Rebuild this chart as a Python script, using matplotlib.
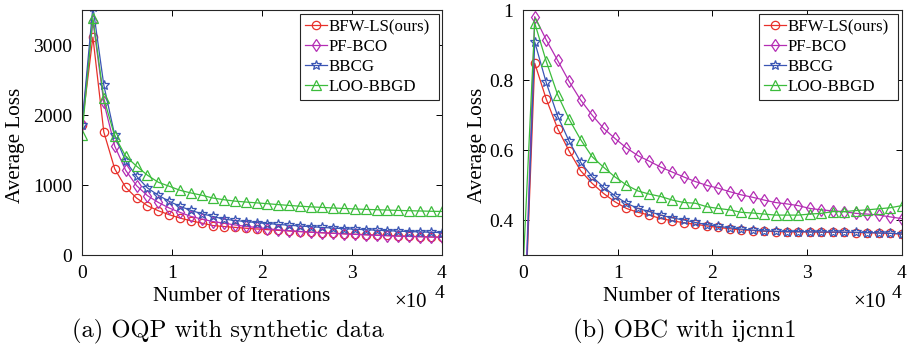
import numpy as np
import matplotlib
matplotlib.use("Agg")
import matplotlib.pyplot as plt

# iterations (34 samples from 0 to 4e4)
iters = np.linspace(0, 40000, 34)

methods = ["BFW-LS(ours)", "PF-BCO", "BBCG", "LOO-BBGD"]

# (a) OQP with synthetic data
oqp_bfw = [1853, 3113, 1757, 1231, 967, 814, 704, 632, 575, 527, 488, 455, 421, 407,
           395, 383, 372, 362, 352, 343, 334, 326, 318, 311, 304, 297, 291, 285, 279,
           273, 268, 263, 258, 254]
oqp_pfbco = [1868, 3350, 2180, 1556, 1211, 991, 848, 751, 671, 608, 551, 513, 478, 455,
             430, 410, 393, 376, 360, 348, 337, 326, 318, 310, 302, 295, 288, 281, 275,
             269, 265, 261, 257, 254]
oqp_bbcg = [1853, 3550, 2428, 1710, 1341, 1126, 958, 853, 766, 694, 637, 589, 551, 513,
            493, 478, 464, 450, 437, 425, 414, 404, 394, 385, 376, 368, 361, 354, 347,
            341, 335, 330, 325, 320]
oqp_loo = [1710, 3386, 2237, 1700, 1413, 1269, 1140, 1039, 982, 924, 886, 853, 814, 790,
           770, 757, 745, 733, 720, 708, 697, 688, 680, 672, 665, 658, 652, 647, 642,
           637, 633, 629, 625, 622]

# (b) OBC with ijcnn1
obc_bfw = [0, 0.848, 0.746, 0.661, 0.597, 0.541, 0.505, 0.476, 0.452, 0.433, 0.422, 0.414,
           0.404, 0.398, 0.392, 0.388, 0.383, 0.379, 0.375, 0.372, 0.370, 0.368, 0.367,
           0.366, 0.366, 0.366, 0.365, 0.365, 0.365, 0.364, 0.364, 0.363, 0.362, 0.360]
obc_pfbco = [0, 0.981, 0.915, 0.856, 0.796, 0.743, 0.700, 0.662, 0.633, 0.606, 0.584, 0.568,
             0.551, 0.537, 0.523, 0.510, 0.499, 0.491, 0.481, 0.472, 0.465, 0.457, 0.450,
             0.446, 0.441, 0.433, 0.429, 0.426, 0.424, 0.419, 0.417, 0.414, 0.409, 0.404]
obc_bbcg = [0, 0.909, 0.793, 0.697, 0.625, 0.565, 0.524, 0.494, 0.469, 0.448, 0.433, 0.424,
            0.414, 0.406, 0.400, 0.393, 0.387, 0.382, 0.378, 0.374, 0.371, 0.369, 0.368,
            0.367, 0.367, 0.366, 0.366, 0.366, 0.365, 0.365, 0.364, 0.363, 0.362, 0.360]
obc_loo = [0.27, 0.963, 0.854, 0.758, 0.688, 0.630, 0.581, 0.551, 0.523, 0.500, 0.483, 0.474,
           0.467, 0.457, 0.450, 0.448, 0.438, 0.433, 0.429, 0.422, 0.420, 0.417, 0.414,
           0.414, 0.414, 0.417, 0.419, 0.424, 0.424, 0.427, 0.429, 0.432, 0.435, 0.441]

colors = ["#e8302a", "#b42db4", "#3a55b4", "#3cbc3c"]
markers = ["o", "d", "*", "^"]
msizes = [6, 6, 7, 6.5]

plt.rcParams["font.family"] = "Liberation Serif"

fig = plt.figure(figsize=(9.1, 3.46), dpi=100)
ax_a = fig.add_axes([0.0901, 0.263, 0.3956, 0.708])
ax_b = fig.add_axes([0.575, 0.263, 0.4158, 0.708])


def draw(ax, series, ylim, yticks, yticklabels, leg_x, leg_w, ylab_x, xlab_x, exp_x, pow_x):
    for ys, lab, c, m, ms in zip(series, methods, colors, markers, msizes):
        ax.plot(iters, ys, color=c, marker=m, markersize=ms, markerfacecolor="none",
                markeredgewidth=0.9, lw=0.9, label=lab)
    ax.set_xlim(0, 40000)
    ax.set_ylim(*ylim)
    ax.set_xticks([0, 10000, 20000, 30000, 40000])
    ax.set_xticklabels(["0", "1", "2", "3", "4"])
    ax.set_yticks(yticks)
    ax.set_yticklabels(yticklabels)
    ax.tick_params(direction="in", top=True, right=True, length=4, width=0.7,
                   labelsize=14, pad=7)
    for s in ax.spines.values():
        s.set_linewidth(0.8)
        s.set_color("#262626")
    ax.set_xlabel("Number of Iterations", fontsize=15.2, va="center")
    ax.xaxis.set_label_coords(xlab_x, -0.17)
    ax.set_ylabel("Average Loss", fontsize=15.2, va="center")
    ax.yaxis.set_label_coords(ylab_x, 0.449)
    ax.text(exp_x, -0.195, "\u00d710", transform=ax.transAxes, fontsize=15,
            ha="center", va="center")
    ax.text(pow_x, -0.158, "4", transform=ax.transAxes, fontsize=14,
            ha="center", va="center")
    leg = ax.legend(loc="upper left", bbox_to_anchor=(leg_x, 0.637, leg_w, 0.347),
                    mode="expand", fontsize=12.2, handlelength=1.3, handletextpad=0.1,
                    borderpad=0.3, labelspacing=0.24, borderaxespad=0,
                    fancybox=False, framealpha=1)
    leg.get_frame().set_edgecolor("#262626")
    leg.get_frame().set_linewidth(0.8)


draw(ax_a, [oqp_bfw, oqp_pfbco, oqp_bbcg, oqp_loo], (0, 3500),
     [0, 1000, 2000, 3000], ["0", "1000", "2000", "3000"],
     0.6056, 0.386, -0.186, 0.4436, 0.914, 0.994)
draw(ax_b, [obc_bfw, obc_pfbco, obc_bbcg, obc_loo], (0.3, 1.0),
     [0.4, 0.6, 0.8, 1.0], ["0.4", "0.6", "0.8", "1"],
     0.623, 0.367, -0.122, 0.4445, 0.916, 0.987)

fig.text(0.250, 0.041, "(a) OQP with synthetic data", family="cmr10", fontsize=17.7,
         ha="center", va="center")
fig.text(0.753, 0.041, "(b) OBC with ijcnn1", family="cmr10", fontsize=17.7,
         ha="center", va="center")

fig.savefig("out.png", dpi=100)
